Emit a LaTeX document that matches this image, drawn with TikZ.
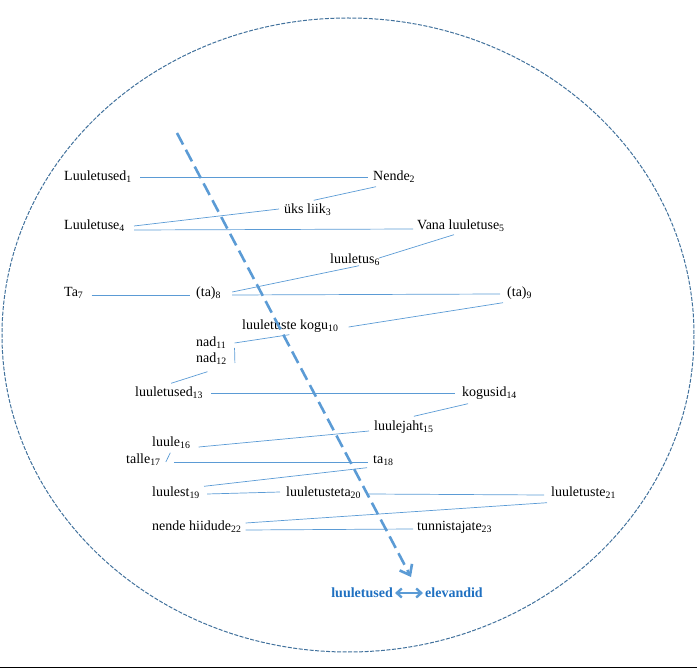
\documentclass[tikz,border=0pt]{standalone}
\usepackage{fontspec}
\setmainfont{Liberation Serif}
\usetikzlibrary{calc,arrows.meta}
\definecolor{linkblue}{RGB}{91,155,213}
\definecolor{rimblue}{RGB}{65,113,156}
\definecolor{keyblue}{RGB}{31,112,193}
\newcommand{\idx}[1]{\textsubscript{#1}}
\begin{document}
\begin{tikzpicture}[x=1pt,y=-1pt,
  word/.style={anchor=west, inner xsep=2pt, inner ysep=3pt, text height=10pt, text depth=3pt, font=\fontsize{14}{16}\selectfont},
  link/.style={draw=linkblue, line width=0.7pt},
  flow/.style={draw=linkblue, line width=2.6pt, dash pattern=on 13pt off 6pt, -{Straight Barb[length=9pt,width=14pt,line width=2.6pt]}},
  keyword/.style={inner xsep=2pt, text=keyblue, font=\fontsize{14}{16}\selectfont\bfseries},
  keyarrow/.style={draw=linkblue, line width=2.4pt, {Straight Barb[length=5pt,width=9pt]}-{Straight Barb[length=5pt,width=9pt]}}]
\useasboundingbox (0,0) rectangle (697,668);
% frame
\draw[rimblue, line width=1pt, dash pattern=on 4pt off 1.5pt] (348,335) ellipse [x radius=346, y radius=317];
\draw[black, line width=1pt] (0,667) -- (697,667);
% words
\node[word] (n1) at (62,177) {Luuletused\idx{1}};
\node[word] (n2) at (371,177) {Nende\idx{2}};
\node[word] (n3) at (282,210) {üks liik\idx{3}};
\node[word] (n4) at (62,226) {Luuletuse\idx{4}};
\node[word] (n5) at (415,226) {Vana luuletuse\idx{5}};
\node[word] (n6) at (328,260) {luuletus\idx{6}};
\node[word] (n7) at (62,293) {Ta\idx{7}};
\node[word] (n8) at (194,293) {(ta)\idx{8}};
\node[word] (n9) at (505,293) {(ta)\idx{9}};
\node[word] (n10) at (240,326) {luuletuste kogu\idx{10}};
\node[word] (n11) at (194,343) {nad\idx{11}};
\node[word] (n12) at (194,359) {nad\idx{12}};
\node[word] (n13) at (133,393) {luuletused\idx{13}};
\node[word] (n14) at (460,393) {kogusid\idx{14}};
\node[word] (n15) at (372,427) {luulejaht\idx{15}};
\node[word] (n16) at (150,443) {luule\idx{16}};
\node[word] (n17) at (124,460) {talle\idx{17}};
\node[word] (n18) at (371,460) {ta\idx{18}};
\node[word] (n19) at (150,493) {luulest\idx{19}};
\node[word] (n20) at (284,493) {luuletusteta\idx{20}};
\node[word] (n21) at (549,493) {luuletuste\idx{21}};
\node[word] (n22) at (150,527) {nende hiidude\idx{22}};
\node[word] (n23) at (415,527) {tunnistajate\idx{23}};
% links
\draw[link] ($(n1.east)+(6,0)$) -- ($(n2.west)+(-3,0)$);
\draw[link] ($(n2.south west)+(5,0)$) -- ($(n3.north)+(6,0)$);
\draw[link] ($(n4.east)+(7,0)$) -- ($(n3.west)+(-3,-1)$);
\draw[link] ($(n4.east)+(7,4)$) -- ($(n5.west)+(-2,3)$);
\draw[link] ($(n5.south)+(-7,-1)$) -- ($(n6.east)+(-3,-2)$);
\draw[link] ($(n6.south east)+(-23,-4)$) -- ($(n8.east)+(9,-1)$);
\draw[link] ($(n7.east)+(6,2)$) -- ($(n8.west)+(-4,2)$);
\draw[link] ($(n8.east)+(9,2)$) -- ($(n9.west)+(-5,1)$);
\draw[link] ($(n9.south west)+(-2,0)$) -- ($(n10.east)+(8,1)$);
\draw[link] ($(n10.south)+(-1,-1)$) -- ($(n11.east)+(6,0)$);
\draw[link] ($(n11.east)+(6,5)$) -- ($(n12.east)+(6,4)$);
\draw[link] ($(n12.south)+(-4,3)$) -- ($(n13.north)+(2,0)$);
\draw[link] ($(n13.east)+(6,0)$) -- ($(n14.west)+(-5,0)$);
\draw[link] ($(n14.south west)+(8,1)$) -- ($(n15.north)+(10,-1)$);
\draw[link] ($(n15.west)+(-3,4)$) -- ($(n16.east)+(6,4)$);
\draw[link] ($(n16.south)+(-1,0)$) -- ($(n17.east)+(3,2)$);
\draw[link] ($(n17.east)+(11,2)$) -- ($(n18.west)+(-3,2)$);
\draw[link] ($(n18.south west)+(-4,-2)$) -- ($(n19.north east)+(2,3)$);
\draw[link] ($(n19.east)+(5,1)$) -- ($(n20.west)+(-4,-1)$);
\draw[link] ($(n20.east)+(5,1)$) -- ($(n21.west)+(-5,2)$);
\draw[link] ($(n21.south west)+(-2,0)$) -- ($(n22.east)+(2,-4)$);
\draw[link] ($(n22.east)+(2,3)$) -- ($(n23.west)+(-2,2)$);
% reading direction
\coordinate (flowtop) at (177,133);
\coordinate (flowend) at (411,577);
\draw[flow] (flowtop) -- (flowend);
% key
\node[keyword, anchor=east] (key1) at (395,593) {luuletused};
\node[keyword, anchor=west] (key2) at (423,593) {elevandid};
\draw[keyarrow] (key1) -- (key2);
\end{tikzpicture}
\end{document}
